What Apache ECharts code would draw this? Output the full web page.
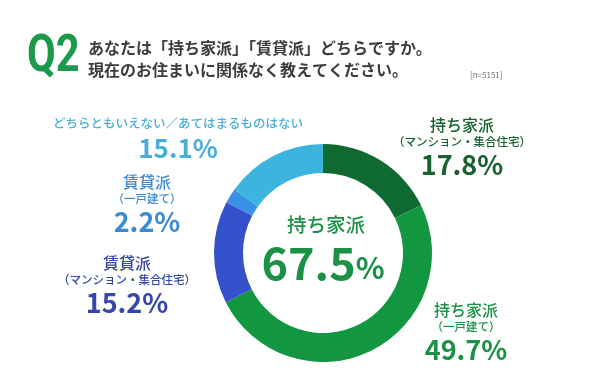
<!DOCTYPE html>
<html><head><meta charset="utf-8">
<script src="https://cdn.jsdelivr.net/npm/echarts@6/dist/echarts.min.js"></script>
<style>html,body{margin:0;padding:0;background:#fff}#c{width:600px;height:383px}</style>
</head><body><div id="c"></div>
<script>
const categories = ['持ち家派（マンション・集合住宅）','持ち家派（一戸建て）','賃貸派（マンション・集合住宅）','賃貸派（一戸建て）','どちらともいえない／あてはまるものはない'];
const labelTitles = ['持ち家派','持ち家派','賃貸派','賃貸派',''];
const labelSubs = ['（マンション・集合住宅）','（一戸建て）','（マンション・集合住宅）','（一戸建て）','どちらともいえない／あてはまるものはない'];
const values = [17.8, 49.7, 15.2, 2.2, 15.1];
const colors = ['#0e6a30','#12963f','#3451c9','#3a8fe6','#3bb4e0'];
const textColors = ['#17632f','#1b9146','#3547a8','#3a8bd2','#4aafd8'];
const centerTitle = '持ち家派';
const centerValue = '67.5';
const questionNo = 'Q2';
const questionLines = ['あなたは「持ち家派」「賃貸派」どちらですか。','現在のお住まいに関係なく教えてください。'];
const sampleNote = '[n=5151]';

const F = '"Noto Sans CJK JP","Noto Sans",sans-serif';
const chart = echarts.init(document.getElementById('c'));

const labelPos = [[462,125],[466,310],[127,263],[147,182],[178,123]];

const graphics = [];
graphics.push({type:'text', x:27, y:58, scaleX:0.8, style:{text:questionNo, font:'bold 52px Roboto, "Noto Sans", sans-serif', fill:'#1a9a4a', textVerticalAlign:'middle'}});
questionLines.forEach((t,i)=>{
  graphics.push({type:'text', x:88, y:48+i*22, style:{text:t, font:'bold 16px '+F, fill:'#3c3c3c', textVerticalAlign:'middle'}});
});
graphics.push({type:'text', x:470, y:75, style:{text:sampleNote, font:'8px '+F, fill:'#777', textVerticalAlign:'middle'}});

values.forEach((v,i)=>{
  const [cx,cy] = labelPos[i];
  const c = textColors[i];
  if (labelTitles[i]) {
    graphics.push({type:'text', x:cx, y:cy, style:{text:labelTitles[i], font:'500 16px '+F, fill:c, textAlign:'center', textVerticalAlign:'middle'}});
    graphics.push({type:'text', x:cx, y:cy+17, style:{text:labelSubs[i], font:'500 11.5px '+F, fill:c, textAlign:'center', textVerticalAlign:'middle'}});
    graphics.push({type:'text', x:cx, y:cy+40, style:{text:v.toFixed(1)+'%', font:'bold 27px '+F, fill:c, textAlign:'center', textVerticalAlign:'middle'}});
  } else {
    graphics.push({type:'text', x:cx, y:cy, style:{text:labelSubs[i], font:'500 12.5px '+F, fill:c, textAlign:'center', textVerticalAlign:'middle'}});
    graphics.push({type:'text', x:cx, y:cy+25, style:{text:v.toFixed(1)+'%', font:'bold 26px '+F, fill:c, textAlign:'center', textVerticalAlign:'middle'}});
  }
});

graphics.push({type:'text', x:326, y:225, style:{text:centerTitle, font:'500 19.5px '+F, fill:'#1b9146', textAlign:'center', textVerticalAlign:'middle'}});
graphics.push({type:'text', x:323, y:263, style:{
  text:'{a|'+centerValue+'}{b|%}', textAlign:'center', textVerticalAlign:'middle',
  rich:{a:{font:'bold 45px '+F, fill:'#1b9146', color:'#1b9146'}, b:{font:'bold 30px '+F, fill:'#1b9146', color:'#1b9146', padding:[10,0,0,0]}}
}});

chart.setOption({
  animation:false,
  backgroundColor:'#fff',
  graphic: graphics,
  series:[{
    type:'pie',
    center:[323,253],
    radius:[80,109],
    startAngle:90,
    clockwise:true,
    label:{show:false},
    labelLine:{show:false},
    itemStyle:{borderWidth:0},
    emphasis:{disabled:true},
    data: values.map((v,i)=>({name:categories[i], value:v, itemStyle:{color:colors[i]}}))
  }]
});
</script></body></html>
